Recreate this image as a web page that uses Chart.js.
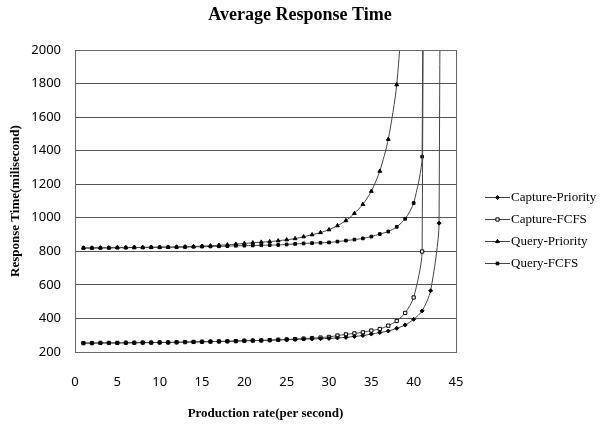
<!DOCTYPE html>
<html>
<head>
<meta charset="utf-8">
<title>Average Response Time</title>
<script src="https://cdn.jsdelivr.net/npm/chart.js"></script>
<style>
  html, body { margin: 0; padding: 0; background: #fff; }
  #wrap { width: 600px; height: 424px; position: relative; }
</style>
</head>
<body>
<div id="wrap"><canvas id="chart"></canvas></div>
<script>
// Production rate (per second) – x values
const rates = [
    1, 2, 3, 4, 5, 6, 7, 8, 9, 10,
    11, 12, 13, 14, 15, 16, 17, 18, 19, 20,
    21, 22, 23, 24, 25, 26, 27, 28, 29, 30,
    31, 32, 33, 34, 35, 36, 37, 38, 39, 40,
    41, 42, 43, 44
];

// Response time (ms) per series.
// The last value of each series is far above the axis (curve goes vertical).
const capturePriority = [
    253, 253, 254, 254, 254, 255, 255, 256, 256, 257,
    257, 258, 259, 260, 261, 262, 263, 264, 265, 267,
    268, 269, 270, 272, 273, 275, 277, 278, 279, 281,
    284, 287, 293, 298, 307, 316, 325, 341, 361, 395,
    445, 565, 968, 20000
];
const captureFCFS = [
    253, 253, 254, 254, 254, 255, 255, 256, 256, 257,
    257, 258, 259, 260, 261, 262, 263, 264, 265, 267,
    268, 269, 271, 273, 275, 277, 280, 283, 286, 290,
    298, 305, 311, 317, 328, 337, 357, 385, 433, 525,
    799, 20000
];
const queryPriority = [
    820, 820, 821, 821, 822, 822, 823, 823, 824, 825,
    825, 826, 827, 829, 831, 833, 836, 839, 843, 847,
    851, 855, 858, 863, 869, 876, 887, 899, 912, 929,
    953, 983, 1026, 1080, 1158, 1278, 1468, 1793, 2480
];
const queryFCFS = [
    820, 820, 821, 821, 822, 822, 823, 823, 824, 824,
    825, 825, 826, 827, 828, 829, 830, 831, 833, 834,
    835, 836, 837, 838, 841, 844, 847, 849, 851, 853,
    858, 864, 870, 877, 888, 903, 918, 946, 994, 1088,
    1364, 20000
];

const seriesNames = ['Capture-Priority', 'Capture-FCFS', 'Query-Priority', 'Query-FCFS'];
const seriesValues = [capturePriority, captureFCFS, queryPriority, queryFCFS];

// Marker looks (Excel-like, small)
const markers = [
    { style: 'rectRot',  radius: 2.0, fill: '#000' },
    { style: 'rect',     radius: 2.3, fill: '#fff' },
    { style: 'triangle', radius: 2.2, fill: '#000' },
    { style: 'rect',     radius: 1.9, fill: '#000' }
];

const serifBold = { family: "'Liberation Serif', 'Times New Roman', serif", weight: 'bold' };
const tickFont = { family: "'Noto Sans', 'DejaVu Sans', sans-serif", size: 13 };

function toPoints(values) {
    return values.map((v, i) => ({ x: rates[i], y: v }));
}

const datasets = seriesNames.map((name, i) => ({
    label: name,
    data: toPoints(seriesValues[i]),
    borderColor: '#444',
    borderWidth: 1,
    tension: 0.25,
    pointStyle: markers[i].style,
    pointRadius: markers[i].radius,
    pointBackgroundColor: markers[i].fill,
    pointBorderColor: '#000',
    pointBorderWidth: 1
}));

// Draw one marker shape by hand (for the legend)
function drawMarker(ctx, m, x, y) {
    const r = m.radius;
    ctx.beginPath();
    if (m.style === 'rect') {
        const s = r * Math.SQRT1_2;
        ctx.rect(x - s, y - s, 2 * s, 2 * s);
    } else if (m.style === 'rectRot') {
        ctx.moveTo(x, y - r);
        ctx.lineTo(x + r, y);
        ctx.lineTo(x, y + r);
        ctx.lineTo(x - r, y);
        ctx.closePath();
    } else {
        ctx.moveTo(x, y - r);
        ctx.lineTo(x + r * 0.87, y + r * 0.5);
        ctx.lineTo(x - r * 0.87, y + r * 0.5);
        ctx.closePath();
    }
    ctx.fillStyle = m.fill;
    ctx.fill();
    ctx.lineWidth = 1;
    ctx.strokeStyle = '#000';
    ctx.stroke();
}

// Frame around the plot + legend on the right
const frameAndLegend = {
    id: 'frameAndLegend',
    afterDatasetsDraw(chart) {
        const { ctx, chartArea: a } = chart;
        ctx.save();
        ctx.strokeStyle = '#666';
        ctx.lineWidth = 1;
        const l = Math.round(a.left) + 0.5, t = Math.round(a.top) + 0.5;
        const r = Math.round(a.right) + 0.5, b = Math.round(a.bottom) + 0.5;
        ctx.strokeRect(l, t, r - l, b - t);
        ctx.restore();
    },
    afterDraw(chart) {
        const ctx = chart.ctx;
        ctx.save();
        ctx.font = "13px 'Liberation Serif', 'Times New Roman', serif";
        ctx.textBaseline = 'middle';
        ctx.textAlign = 'left';
        seriesNames.forEach((name, i) => {
            const y = 197 + i * 22;
            ctx.strokeStyle = '#444';
            ctx.lineWidth = 1;
            ctx.beginPath();
            ctx.moveTo(485, y + 0.5);
            ctx.lineTo(510, y + 0.5);
            ctx.stroke();
            drawMarker(ctx, markers[i], 497.5, y + 0.5);
            ctx.fillStyle = '#000';
            ctx.fillText(name, 511, y + 1);
        });
        ctx.restore();
    }
};

new Chart(document.getElementById('chart'), {
    type: 'line',
    data: { datasets },
    plugins: [frameAndLegend],
    options: {
        responsive: true,
        maintainAspectRatio: false,
        animation: false,
        layout: { padding: 0 },
        plugins: {
            legend: { display: false },
            tooltip: { enabled: false },
            title: {
                display: true,
                text: 'Average Response Time',
                color: '#000',
                font: { ...serifBold, size: 18 },
                padding: { top: 5, bottom: 23.4 }
            }
        },
        scales: {
            x: {
                type: 'linear',
                min: 0,
                max: 45,
                afterFit: s => { s.height = 72; },
                grid: { display: false, drawTicks: false },
                border: { display: false },
                ticks: { stepSize: 5, padding: 22, color: '#000', font: tickFont },
                title: {
                    display: true,
                    text: 'Production rate(per second)',
                    color: '#000',
                    font: { ...serifBold, size: 13 },
                    padding: { top: 16, bottom: 3 }
                }
            },
            y: {
                min: 200,
                max: 2000,
                afterFit: s => { s.width = 75; },
                grid: { color: '#555', lineWidth: 1, drawTicks: false },
                border: { display: false },
                ticks: {
                    stepSize: 200,
                    padding: 14,
                    color: '#000',
                    font: tickFont,
                    callback: v => String(v)
                },
                title: {
                    display: true,
                    text: 'Response Time(milisecond)',
                    color: '#000',
                    font: { ...serifBold, size: 13 },
                    padding: { top: 8, bottom: 8 }
                }
            },
            // empty box on the right that holds the space used by the legend
            legendSpace: {
                type: 'linear',
                position: 'right',
                afterFit: s => { s.width = 144; },
                grid: { display: false, drawTicks: false },
                border: { display: false },
                ticks: { display: false }
            }
        }
    }
});
</script>
</body>
</html>
